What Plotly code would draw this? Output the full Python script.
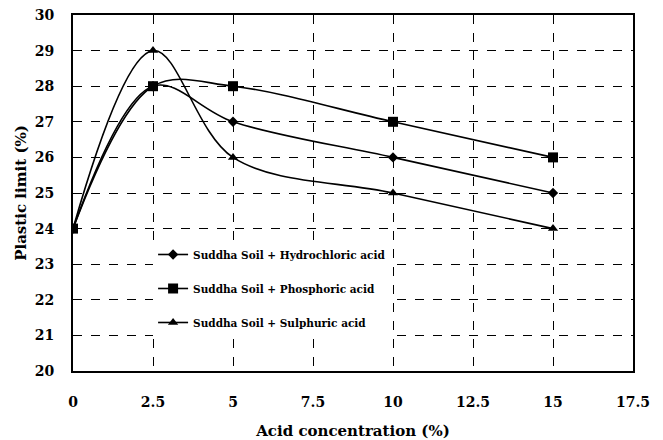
import plotly.graph_objects as go

concentration = [0, 2.5, 5, 10, 15]
hydrochloric = [24, 28, 27, 26, 25]
phosphoric = [24, 28, 28, 27, 26]
sulphuric = [24, 29, 26, 25, 24]

series = [
    ("Suddha Soil + Hydrochloric acid", hydrochloric, "diamond", 8),
    ("Suddha Soil + Phosphoric acid", phosphoric, "square", 10),
    ("Suddha Soil + Sulphuric acid", sulphuric, "triangle-up", 9),
]

fig = go.Figure()
for i, (name, vals, sym, sz) in enumerate(series):
    fig.add_trace(go.Scatter(
        x=concentration, y=vals, name=name, mode="lines+markers",
        line=dict(color="black", width=1.6, shape="spline", smoothing=1),
        marker=dict(symbol=sym, size=sz, color="black"),
        legendgroup=f"g{i}",
    ))

font_family = "DejaVu Serif"
fig.update_layout(
    width=663, height=440,
    margin=dict(l=73, r=30, t=15, b=69),
    paper_bgcolor="white", plot_bgcolor="white",
    font=dict(family=font_family, color="black"),
    showlegend=True,
    legend=dict(
        x=0.143, y=0.368, xanchor="left", yanchor="top",
        bgcolor="white", borderwidth=0,
        font=dict(size=10.5, family=font_family, weight="bold"),
        tracegroupgap=15,
    ),
    xaxis=dict(
        range=[0, 17.5], dtick=2.5, tick0=0, automargin=False,
        showgrid=True, gridcolor="black", griddash="dash", gridwidth=1,
        showline=True, linecolor="black", linewidth=2, mirror=True,
        ticks="", ticklabelstandoff=17,
        tickfont=dict(size=14, family=font_family, weight="bold"),
        title=dict(text="Acid concentration (%)", font=dict(size=15, family=font_family, weight="bold"), standoff=18),
        zeroline=False,
    ),
    yaxis=dict(
        range=[20, 30], dtick=1, tick0=20, automargin=False,
        showgrid=True, gridcolor="black", griddash="dash", gridwidth=1,
        showline=True, linecolor="black", linewidth=2, mirror=True,
        ticks="", ticklabelstandoff=14,
        tickfont=dict(size=14, family=font_family, weight="bold"),
        title=dict(text="Plastic limit (%)", font=dict(size=15, family=font_family, weight="bold"), standoff=4),
        zeroline=False,
    ),
)

fig.write_html("out.html", config={"displayModeBar": False},
               post_script="document.body.style.margin='0';")
